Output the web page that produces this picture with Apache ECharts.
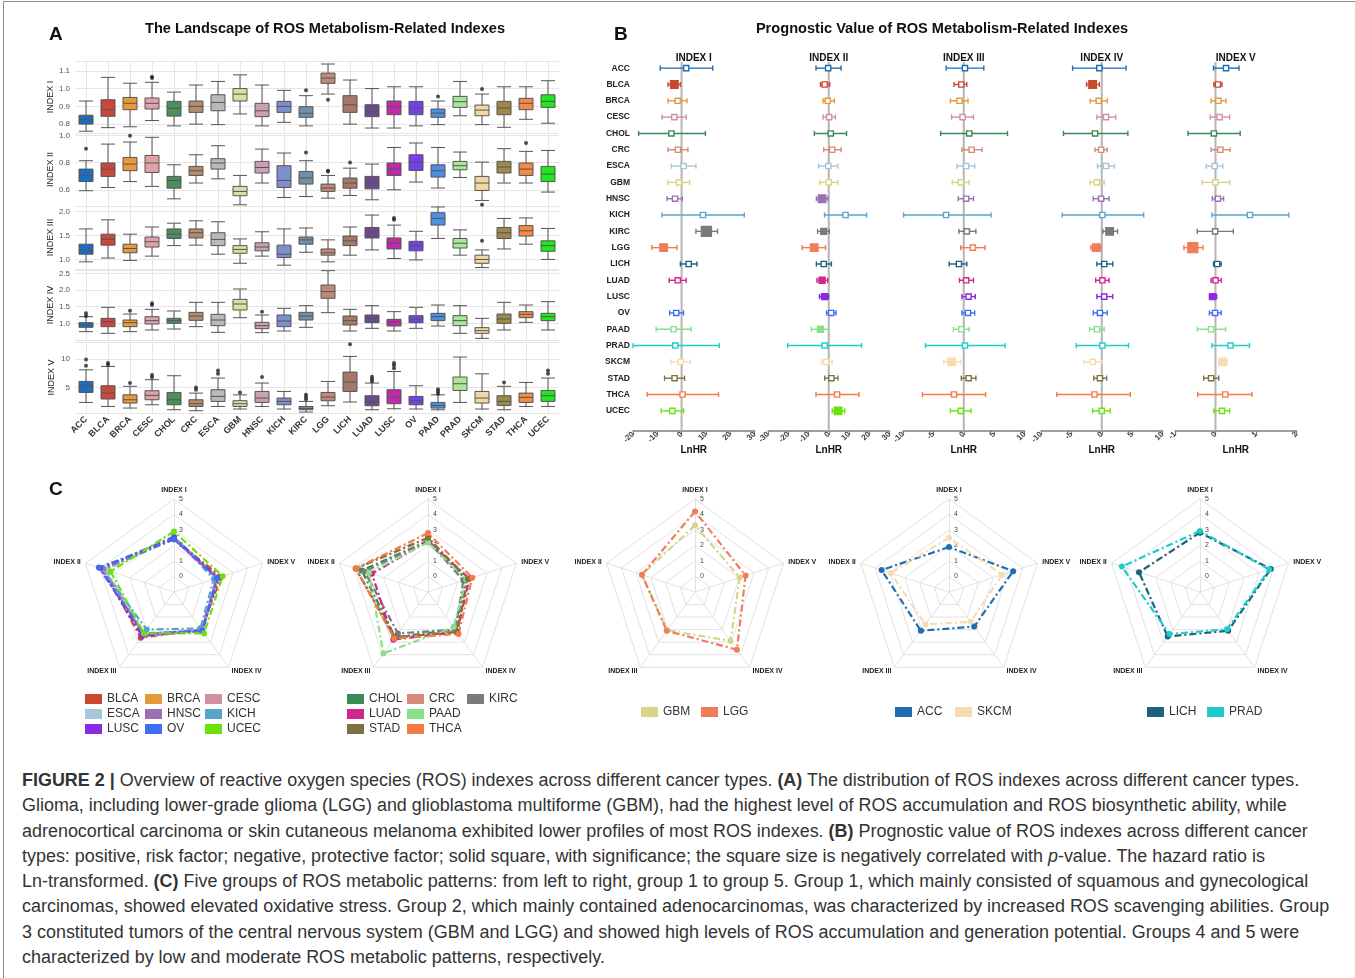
<!DOCTYPE html>
<html>
<head>
<meta charset="utf-8">
<title>ROS metabolism-related indexes</title>
<script src="https://cdn.jsdelivr.net/npm/echarts/dist/echarts.min.js"></script>
<style>
  html, body { margin: 0; padding: 0; background: #fff; }
  #page { position: relative; width: 1355px; height: 978px; font-family: "Liberation Sans", Arial, sans-serif; overflow: hidden; }
  #frame { position: absolute; left: 3px; top: 1px; width: 1352px; height: 977px; border-left: 1px solid #8c8c8c; border-top: 1px solid #8c8c8c; box-sizing: border-box; z-index: 2; pointer-events: none; }
  #chart { position: absolute; left: 0; top: 0; width: 1355px; height: 765px; }
  #caption { position: absolute; left: 22px; top: 768px; font-size: 17.95px; line-height: 25.3px; color: #333; white-space: nowrap; }
</style>
</head>
<body>
<div id="page">
  <div id="chart"></div>
  <div id="frame"></div>
  <div id="caption">
    <b>FIGURE 2 |</b> Overview of reactive oxygen species (ROS) indexes across different cancer types. <b>(A)</b> The distribution of ROS indexes across different cancer types.<br>
    Glioma, including lower-grade glioma (LGG) and glioblastoma multiforme (GBM), had the highest level of ROS accumulation and ROS biosynthetic ability, while<br>
    adrenocortical carcinoma or skin cutaneous melanoma exhibited lower profiles of most ROS indexes. <b>(B)</b> Prognostic value of ROS indexes across different cancer<br>
    types: positive, risk factor; negative, protective factor; solid square, with significance; the square size is negatively correlated with <i>p</i>-value. The hazard ratio is<br>
    Ln-transformed. <b>(C)</b> Five groups of ROS metabolic patterns: from left to right, group 1 to group 5. Group 1, which mainly consisted of squamous and gynecological<br>
    carcinomas, showed elevated oxidative stress. Group 2, which mainly contained adenocarcinomas, was characterized by increased ROS scavenging abilities. Group<br>
    3 constituted tumors of the central nervous system (GBM and LGG) and showed high levels of ROS accumulation and generation potential. Groups 4 and 5 were<br>
    characterized by low and moderate ROS metabolic patterns, respectively.
  </div>
</div>
<script>
// ---------- data ----------
const cancers = ['ACC','BLCA','BRCA','CESC','CHOL','CRC','ESCA','GBM','HNSC','KICH','KIRC','LGG','LICH','LUAD','LUSC','OV','PAAD','PRAD','SKCM','STAD','THCA','UCEC'];
const indexNames = ['INDEX I','INDEX II','INDEX III','INDEX IV','INDEX V'];

// boxplot values: [lower whisker, Q1, median, Q3, upper whisker]
const boxIndexI = [
  [0.76,0.80,0.825,0.85,0.93],[0.78,0.844,0.881,0.937,1.063],[0.785,0.881,0.917,0.95,1.03],[0.82,0.885,0.917,0.947,1.035],
  [0.79,0.845,0.889,0.928,0.98],[0.80,0.866,0.90,0.93,1.02],[0.797,0.875,0.922,0.965,1.04],[0.857,0.93,0.969,1.0,1.077],
  [0.79,0.842,0.875,0.917,1.02],[0.81,0.866,0.90,0.928,0.99],[0.79,0.838,0.861,0.898,0.96],[0.969,1.029,1.059,1.087,1.138],
  [0.80,0.866,0.909,0.96,1.048],[0.778,0.842,0.872,0.909,1.0],[0.778,0.853,0.898,0.93,1.01],[0.79,0.853,0.889,0.928,1.01],
  [0.797,0.838,0.862,0.885,0.93],[0.847,0.894,0.926,0.956,1.04],[0.797,0.847,0.879,0.907,0.969],[0.782,0.853,0.89,0.928,1.01],
  [0.827,0.881,0.917,0.945,1.01],[0.805,0.894,0.928,0.965,1.044]
];
const boxIndexII = [
  [0.593,0.661,0.706,0.753,0.815],[0.617,0.699,0.753,0.798,0.938],[0.661,0.741,0.79,0.839,0.953],[0.625,0.728,0.798,0.854,0.988],
  [0.533,0.612,0.669,0.699,0.785],[0.65,0.706,0.741,0.773,0.859],[0.681,0.753,0.798,0.83,0.926],[0.489,0.556,0.588,0.625,0.706],
  [0.65,0.724,0.765,0.81,0.901],[0.543,0.617,0.669,0.778,0.872],[0.55,0.642,0.687,0.736,0.815],[0.538,0.588,0.613,0.642,0.706],
  [0.558,0.612,0.65,0.687,0.76],[0.526,0.607,0.657,0.699,0.79],[0.6,0.706,0.753,0.798,0.913],[0.657,0.743,0.802,0.859,0.946],
  [0.613,0.694,0.741,0.785,0.913],[0.691,0.748,0.778,0.81,0.879],[0.521,0.595,0.65,0.699,0.805],[0.65,0.724,0.768,0.81,0.904],
  [0.65,0.706,0.753,0.798,0.884],[0.583,0.661,0.716,0.773,0.891]
];
const boxIndexIII = [
  [0.95,1.11,1.195,1.32,1.64],[1.03,1.30,1.42,1.53,1.83],[0.98,1.14,1.23,1.32,1.53],[1.07,1.26,1.37,1.47,1.68],
  [1.29,1.44,1.53,1.64,1.76],[1.30,1.45,1.56,1.64,1.81],[1.11,1.29,1.42,1.56,1.79],[0.92,1.13,1.21,1.29,1.43],
  [1.07,1.18,1.26,1.35,1.58],[0.88,1.04,1.11,1.30,1.64],[1.15,1.32,1.41,1.47,1.66],[0.95,1.09,1.14,1.22,1.41],
  [1.09,1.29,1.39,1.49,1.68],[1.20,1.45,1.57,1.67,1.93],[1.02,1.22,1.34,1.45,1.72],[0.99,1.18,1.29,1.38,1.59],
  [1.44,1.72,1.86,1.98,2.1],[1.09,1.24,1.34,1.44,1.62],[0.83,0.92,1.0,1.09,1.2],[1.22,1.44,1.56,1.67,1.86],
  [1.32,1.49,1.60,1.71,1.87],[1.0,1.17,1.29,1.39,1.65]
];
const boxIndexIV = [
  [0.75,0.88,0.95,1.02,1.2],[0.70,0.90,1.05,1.15,1.48],[0.75,0.90,1.02,1.10,1.28],[0.80,0.98,1.08,1.20,1.42],
  [0.83,1.0,1.08,1.15,1.37],[0.90,1.09,1.22,1.33,1.63],[0.73,0.93,1.10,1.27,1.63],[1.17,1.40,1.58,1.72,2.03],
  [0.72,0.84,0.93,1.03,1.25],[0.77,0.90,1.07,1.25,1.45],[0.88,1.10,1.22,1.33,1.53],[1.32,1.75,1.95,2.15,2.58],
  [0.77,0.95,1.08,1.22,1.42],[0.85,1.02,1.15,1.25,1.53],[0.77,0.92,1.04,1.12,1.35],[0.85,1.02,1.13,1.23,1.48],
  [0.92,1.08,1.2,1.30,1.55],[0.70,0.93,1.08,1.23,1.53],[0.55,0.70,0.78,0.87,1.15],[0.80,1.0,1.13,1.28,1.63],
  [1.03,1.17,1.27,1.35,1.55],[0.80,1.08,1.2,1.30,1.65]
];
const boxIndexV = [
  [2.36,4.12,5.3,6.06,8.1],[1.65,2.96,4.0,5.3,8.7],[1.37,2.25,2.83,3.7,5.2],[1.95,2.83,3.6,4.42,6.36],
  [1.07,1.95,2.83,4.12,7.06],[0.9,1.65,2.13,2.83,4.0],[1.65,2.54,3.42,4.6,6.65],[1.2,1.65,2.13,2.66,3.7],
  [1.65,2.36,3.13,4.3,5.77],[1.2,1.95,2.54,3.13,4.3],[0.67,1.07,1.3,1.65,2.54],[1.78,2.66,3.3,4.12,6.06],
  [2.43,4.3,5.95,7.7,10.46],[1.07,1.78,2.43,3.54,5.77],[1.25,2.13,3.3,4.6,7.8],[1.2,1.95,2.71,3.42,5.3],
  [1.07,1.37,1.83,2.36,3.7],[2.36,4.47,5.65,6.83,10.35],[1.2,2.25,3.13,4.3,7.4],[1.07,1.83,2.54,3.54,5.2],
  [1.65,2.36,3.24,4.0,5.88],[1.65,2.54,3.54,4.47,6.65]
];
// outliers: [cancer index, value]
const outIndexI = [[3,1.06],[3,1.066],[10,0.99],[11,0.937],[16,0.956],[18,0.997]];
const outIndexII = [[0,0.904],[2,1.0],[10,0.876],[11,0.736],[11,0.741],[12,0.802],[18,0.489],[20,0.946]];
const outIndexIII = [[14,1.83],[14,1.87],[18,1.39]];
const outIndexIV = [[0,1.22],[0,1.3],[2,1.38],[3,1.55],[3,1.6],[8,1.35]];
const outIndexV = [[0,8.8],[0,9.9],[1,9.0],[1,9.3],[2,5.8],[3,6.8],[3,7.2],[5,4.6],[5,5.0],[6,7.4],[6,8.0],[7,4.1],[8,6.83],
  [10,2.9],[10,3.3],[10,3.7],[12,12.6],[13,6.1],[13,6.5],[13,6.9],[14,8.4],[14,8.9],[14,9.3],[16,3.9],[16,4.3],[16,4.7],
  [19,5.88],[21,7.4],[21,8.0]];
// facet y ranges
const facetMin = [0.75, 0.48, 0.8, 0.5, 0.5];
const facetMax = [1.155, 1.02, 2.12, 2.6, 13];
const facetSplit = [4, 3, 3, 4, 2];
const facetDecimals = [1, 1, 1, 1, 0];

// forest plot: [LnHR, lower, upper]; null = not available
const forestI = [[1.9,-8.8,12.8],[-3.0,-5.6,-0.5],[-1.6,-5.6,2.2],[-3.0,-8.1,1.9],[-4.2,-17.7,9.8],[-1.5,-5.6,2.6],[0.8,-4.2,5.9],
  [-1.1,-5.6,3.3],[-2.7,-6.0,0.3],[8.8,-8.1,25.8],[10.2,5.9,14.8],[-7.4,-12.2,-1.9],[2.9,-0.5,6.3],[-1.6,-5.1,1.9],null,
  [-2.2,-4.9,0.8],[-3.3,-10.5,4.0],[-2.6,-20,15.5],[-0.3,-4.4,3.6],[-2.9,-7.0,1.2],[0.4,-14.2,15.2],[-3.8,-8.4,0.8]];
const forestII = [[-0.3,-6.3,6.1],[-2.0,-4.1,0.5],[-0.5,-2.8,2.8],[0.2,-2.8,3.3],[1.0,-7.1,8.8],[1.7,-2.5,6.1],[-0.2,-5.0,4.5],
  [0,-4.5,4.5],[-3.3,-6.1,-0.5],[8.3,-2.1,18.7],[-2.5,-5.5,0.3],[-7.2,-13.2,-1.6],[-2.5,-6.1,1.3],[-3.3,-5.8,-0.5],[-2.1,-4.6,-0.1],
  [1.2,-1.1,3.6],[-4.1,-8.6,-0.1],[-2.0,-20.3,16.2],[-1.3,-3.6,1.7],[1.3,-2.0,4.5],[4.1,-6.3,14.9],[4.6,1.7,7.9]];
const forestIII = [[0.2,-2.9,3.3],[-0.4,-1.6,0.5],[-0.7,-2.2,0.7],[-0.2,-2.0,1.6],[0.9,-3.8,7.2],[1.3,-0.3,3.0],[0.4,-1.1,1.8],
  [-0.5,-1.9,0.9],[0.4,-0.9,1.6],[-2.9,-9.9,4.5],[0.5,-0.8,2.0],[1.5,-0.5,3.5],[-0.8,-2.4,0.5],[0.4,-0.7,1.6],[0.8,-0.3,1.9],
  [0.7,-0.3,1.8],[-0.4,-1.7,0.9],[0.2,-6.3,6.8],[-2.0,-3.3,-0.5],[0.8,-0.4,2.0],[-1.6,-6.8,3.6],[-0.5,-2.2,1.2]];
const forestIV = [[-0.4,-4.8,4.0],[-1.5,-2.5,-0.4],[-0.5,-1.9,0.9],[0.7,-0.8,2.3],[-1.1,-6.3,4.3],[-0.1,-1.1,0.9],[0.7,-0.7,2.1],
  [-0.8,-1.9,0.4],[-0.1,-1.4,1.2],[0.1,-6.5,6.9],[1.3,0.2,2.6],[-0.9,-1.8,-0.1],[0.4,-0.8,1.8],[0.1,-1.0,1.2],[0.4,-0.8,1.8],
  [-0.3,-1.4,0.9],[-0.8,-2.0,0.4],[0.1,-4.2,4.4],[-1.5,-2.9,0],[-0.3,-1.3,0.8],[-1.2,-7.4,4.7],[0,-1.5,1.4]];
const forestV = [[0.26,-0.05,0.58],[0.06,-0.04,0.16],[0.07,-0.11,0.26],[0.1,-0.13,0.35],[-0.04,-0.68,0.61],[0.12,-0.11,0.36],
  [-0.02,-0.23,0.18],[0,-0.33,0.35],[0.06,-0.08,0.2],[0.85,-0.09,1.81],[-0.01,-0.45,0.44],[-0.56,-0.78,-0.31],[0.04,-0.05,0.14],
  [0,-0.11,0.14],[-0.07,-0.15,0.03],[-0.01,-0.15,0.14],[-0.11,-0.45,0.25],[0.37,-0.09,0.84],[0.18,0.08,0.29],[-0.11,-0.29,0.08],
  [0.24,-0.44,0.9],[0.16,-0.04,0.35]];
// significance level (0 = n.s., higher = smaller p-value)
const sigI   = [0,2,0,0,0,0,0,0,0,0,3,2,0,0,0,0,0,0,0,0,0,0];
const sigII  = [0,0,0,0,0,0,0,0,2,0,1,2,0,1,1,0,1,0,0,0,0,2];
const sigIII = [0,0,0,0,0,0,0,0,0,0,0,0,0,0,0,0,0,0,2,0,0,0];
const sigIV  = [0,2,0,0,0,0,0,0,0,0,2,2,0,0,0,0,0,0,0,0,0,0];
const sigV   = [0,0,0,0,0,0,0,0,0,0,0,3,0,0,1,0,0,0,2,0,0,0];
const forestMin = [-20, -30, -10, -10, -1];
const forestMax = [30, 30, 10, 10, 2];
const forestStep = [10, 10, 5, 5, 1];

// radar groups: values for [INDEX I .. INDEX V]
const radarGroup1 = ['BLCA','BRCA','CESC','ESCA','HNSC','KICH','LUSC','OV','UCEC'];
const radarValues1 = [[2.4,3.8,2.65,2.0,2.2],[2.5,3.7,2.4,2.1,2.0],[2.5,3.8,2.5,2.1,2.0],[2.5,3.6,2.3,2.1,1.9],[2.4,3.8,2.4,2.0,1.9],
  [2.6,3.9,2.0,1.9,1.7],[2.5,4.0,2.5,2.1,2.0],[2.4,4.1,2.3,2.1,1.9],[2.9,3.3,2.3,2.3,2.3]];
const radarGroup2 = ['CHOL','CRC','KIRC','LUAD','PAAD','STAD','THCA'];
const radarValues2 = [[2.3,3.5,2.6,2.0,1.6],[2.5,3.9,2.7,2.1,1.7],[2.3,3.3,2.3,2.0,1.4],[2.3,2.8,2.8,2.2,1.8],[2.2,3.0,3.9,1.8,1.6],
  [2.5,3.9,2.6,2.2,1.7],[2.8,3.9,2.7,2.35,2.0]];
const radarGroup3 = ['GBM','LGG'];
const radarValues3 = [[3.3,2.6,2.05,2.9,2.03],[4.2,2.6,2.1,3.6,2.43]];
const radarGroup4 = ['ACC','SKCM'];
const radarValues4 = [[1.9,3.57,2.09,1.76,3.35],[2.5,2.96,1.59,1.38,2.6]];
const radarGroup5 = ['LICH','PRAD'];
const radarValues5 = [[2.83,3.14,2.55,2.09,3.8],[2.94,4.3,2.35,1.97,3.7]];
const radarTicks = [0, 1, 2, 3, 4, 5];
// legend rows per group
const legendRows1 = [['BLCA','BRCA','CESC'],['ESCA','HNSC','KICH'],['LUSC','OV','UCEC']];
const legendRows2 = [['CHOL','CRC','KIRC'],['LUAD','PAAD'],['STAD','THCA']];
const legendRows3 = [['GBM','LGG']];
const legendRows4 = [['ACC','SKCM']];
const legendRows5 = [['LICH','PRAD']];

// ---------- styles ----------
const FONT = '"Liberation Sans", Arial, sans-serif';
const boxColors = ['#1c6dbf','#c9483a','#e9993a','#e0a1a8','#4b8f5e','#b38b6d','#b9b9bb','#dedea0','#c9a0b4','#7b8fcc','#7190a8',
  '#c08a76','#a5786a','#6a4a8c','#be2aa8','#7441e8','#4f8fe0','#a9e89b','#f1d8a2','#9b8a4a','#f4894a','#1ee81e'];
const cancerColors = ['#1f6eb4','#c9482f','#e39a3b','#d390a0','#3a8a55','#d58b77','#a7c6da','#d9d489','#9b70b0','#5aa3cf','#7a7a7a',
  '#ef7d58','#1b637a','#d1268a','#8b2be2','#3d6ff2','#88e08a','#1fcccc','#f9dbb2','#7c7242','#f57a45','#6ae30d'];
const colorOf = name => cancerColors[cancers.indexOf(name)];

const facetTop = [61, 133, 206, 270, 342];
const facetHeight = [72, 73, 63, 70, 71];
const forestLeft = [633, 768, 903, 1041, 1175];
const forestWidth = 121.5;
const sigSize = [5.2, 6, 7.5, 10];

const chart = echarts.init(document.getElementById('chart'));

const grid = [], xAxis = [], yAxis = [], series = [];

// ---------- panel A: boxplots ----------
const boxSets = [boxIndexI, boxIndexII, boxIndexIII, boxIndexIV, boxIndexV];
const outSets = [outIndexI, outIndexII, outIndexIII, outIndexIV, outIndexV];
boxSets.forEach((set, f) => {
  grid.push({ left: 75, width: 484, top: facetTop[f], height: facetHeight[f], outerBoundsMode: 'none' });
  xAxis.push({
    type: 'category', gridIndex: f, data: cancers,
    axisLine: { show: false }, axisTick: { show: false },
    axisLabel: { show: f === 4, rotate: 45, fontSize: 9, fontWeight: 'bold', color: '#333', margin: 5, fontFamily: FONT, interval: 0 },
    splitLine: { show: true, alignWithLabel: true, interval: 0, lineStyle: { color: '#e6e6e6', width: 1 } }
  });
  yAxis.push({
    type: 'value', gridIndex: f, min: facetMin[f], max: facetMax[f], splitNumber: facetSplit[f],
    axisLine: { show: false }, axisTick: { show: false },
    axisLabel: { fontSize: 8, color: '#555', margin: 5, fontFamily: FONT, showMinLabel: false, showMaxLabel: false,
      formatter: v => v.toFixed(facetDecimals[f]) },
    splitLine: { lineStyle: { color: '#e6e6e6' } },
    name: indexNames[f], nameLocation: 'middle', nameRotate: 90, nameGap: 19,
    nameTextStyle: { fontSize: 9, color: '#222', fontFamily: FONT }
  });
  series.push({
    type: 'boxplot', xAxisIndex: f, yAxisIndex: f, boxWidth: [14, 14], silent: true,
    itemStyle: { borderColor: '#555', borderWidth: 1 },
    data: set.map((v, i) => ({ value: v, itemStyle: { color: boxColors[i], borderColor: '#555' } }))
  });
  series.push({
    type: 'scatter', xAxisIndex: f, yAxisIndex: f, symbolSize: 4, silent: true,
    itemStyle: { color: '#222' }, data: outSets[f]
  });
});

// ---------- panel B: forest plots ----------
const forestSets = [forestI, forestII, forestIII, forestIV, forestV];
const sigSets = [sigI, sigII, sigIII, sigIV, sigV];
function forestItem(params, api) {
  const row = api.value(1);
  const est = api.coord([api.value(0), row]);
  const lo = api.coord([api.value(2), row]);
  const hi = api.coord([api.value(3), row]);
  const sig = api.value(4);
  const color = cancerColors[row];
  const children = [];
  if (params.dataIndex === 0) {
    const z = api.coord([0, row])[0];
    const cs = params.coordSys;
    children.push({ type: 'line', shape: { x1: z, y1: cs.y + 2, x2: z, y2: cs.y + cs.height + 12 },
      style: { stroke: '#b5b5b5', lineWidth: 2 } });
  }
  const cap = 2.6;
  children.push({ type: 'line', shape: { x1: lo[0], y1: lo[1], x2: hi[0], y2: hi[1] }, style: { stroke: color, lineWidth: 1.4 } });
  children.push({ type: 'line', shape: { x1: lo[0], y1: lo[1] - cap, x2: lo[0], y2: lo[1] + cap }, style: { stroke: color, lineWidth: 1.4 } });
  children.push({ type: 'line', shape: { x1: hi[0], y1: hi[1] - cap, x2: hi[0], y2: hi[1] + cap }, style: { stroke: color, lineWidth: 1.4 } });
  const s = sigSize[sig];
  children.push({ type: 'rect', shape: { x: est[0] - s / 2, y: est[1] - s / 2, width: s, height: s },
    style: { fill: sig ? color : '#fff', stroke: color, lineWidth: 1.4 } });
  return { type: 'group', children };
}
forestSets.forEach((set, k) => {
  const g = 5 + k;
  grid.push({ left: forestLeft[k], width: forestWidth, top: 60, height: 359, outerBoundsMode: 'none' });
  xAxis.push({
    type: 'value', gridIndex: g, min: forestMin[k], max: forestMax[k], interval: forestStep[k], offset: 12,
    axisLine: { show: true, lineStyle: { color: '#808080', width: 1.5 } },
    axisTick: { show: true, length: 4, lineStyle: { color: '#808080', width: 1.2 } },
    axisLabel: { rotate: 45, fontSize: 8, fontWeight: 'bold', color: '#444', margin: 2, fontFamily: FONT },
    splitLine: { show: false }
  });
  yAxis.push({
    type: 'category', gridIndex: g, data: cancers, inverse: true,
    axisLine: { show: false }, axisTick: { show: false }, splitLine: { show: false },
    axisLabel: { show: k === 0, fontSize: 8.5, fontWeight: 'bold', color: '#222', margin: 3, fontFamily: FONT, interval: 0 }
  });
  const data = [];
  set.forEach((r, i) => { if (r) data.push([r[0], i, r[1], r[2], sigSets[k][i]]); });
  series.push({
    type: 'custom', xAxisIndex: g, yAxisIndex: g, renderItem: forestItem, silent: true,
    encode: { x: [0, 2, 3], y: 1 }, data
  });
});

// ---------- panel C: radars ----------
const radarGroups = [radarGroup1, radarGroup2, radarGroup3, radarGroup4, radarGroup5];
const radarValues = [radarValues1, radarValues2, radarValues3, radarValues4, radarValues5];
const radarCenterX = [174, 428, 695, 949, 1200];
const radar = radarGroups.map((grp, g) => ({
  center: [radarCenterX[g], 592], radius: 93, startAngle: 90, splitNumber: 6, shape: 'polygon',
  nameGap: 5,
  axisName: { color: '#222', fontSize: 7, fontWeight: 'bold', fontFamily: FONT },
  axisLine: { lineStyle: { color: '#e2e2e2' } },
  splitLine: { lineStyle: { color: '#e2e2e2' } },
  splitArea: { show: false },
  axisTick: { show: false },
  axisLabel: { show: false },
  indicator: indexNames.map((n, k) => k === 0
    ? { name: n, min: -1, max: 5, axisLabel: { show: true, fontSize: 7, color: '#444', margin: -9, fontFamily: FONT,
        formatter: v => radarTicks.indexOf(Math.round(v)) >= 0 && v > -0.5 ? String(Math.round(v)) : '' } }
    : { name: n, min: -1, max: 5 })
}));
radarGroups.forEach((grp, g) => {
  series.push({
    type: 'radar', radarIndex: g, silent: true, symbol: 'circle', symbolSize: 6,
    data: grp.map((name, i) => ({
      name, value: radarValues[g][i],
      itemStyle: { color: colorOf(name) },
      lineStyle: { color: colorOf(name), width: 2.2, type: [7, 3, 2, 3] }
    }))
  });
});

// legends, one per entry so the columns line up
const legendRowSets = [legendRows1, legendRows2, legendRows3, legendRows4, legendRows5];
const legendBaseX = [85, 347, 641, 895, 1147];
const legend = [];
legendRowSets.forEach((rows, g) => {
  rows.forEach((row, r) => {
    row.forEach((name, c) => {
      const y = rows.length === 1 ? 713 : 700 + 15 * r;
      legend.push({
        data: [name], left: legendBaseX[g] + 60 * c, top: y - 7, padding: 0, selectedMode: false,
        icon: 'rect', itemWidth: 17, itemHeight: 10,
        textStyle: { fontSize: 12, color: '#333', fontFamily: FONT }
      });
    });
  });
});

// ---------- texts ----------
const txt = (x, y, text, size, weight, align) => ({
  type: 'text', x, y, silent: true,
  style: { text, fill: '#111', font: `${weight} ${size}px ${FONT}`, align: align || 'left', verticalAlign: 'middle' }
});
const graphic = [
  txt(49, 35, 'A', 19, 'bold'),
  txt(614, 35, 'B', 19, 'bold'),
  txt(49, 490, 'C', 19, 'bold'),
  txt(325, 29, 'The Landscape of ROS Metabolism-Related Indexes', 14.6, 'bold', 'center'),
  txt(942, 29, 'Prognostic Value of ROS Metabolism-Related Indexes', 14.6, 'bold', 'center')
];
indexNames.forEach((n, k) => {
  graphic.push(txt(forestLeft[k] + forestWidth / 2, 58, n, 10, 'bold', 'center'));
  graphic.push(txt(forestLeft[k] + forestWidth / 2, 450, 'LnHR', 10, 'bold', 'center'));
});

chart.setOption({
  animation: false,
  backgroundColor: '#fff',
  textStyle: { fontFamily: FONT },
  grid, xAxis, yAxis, radar, legend, graphic, series
});
</script>
</body>
</html>
